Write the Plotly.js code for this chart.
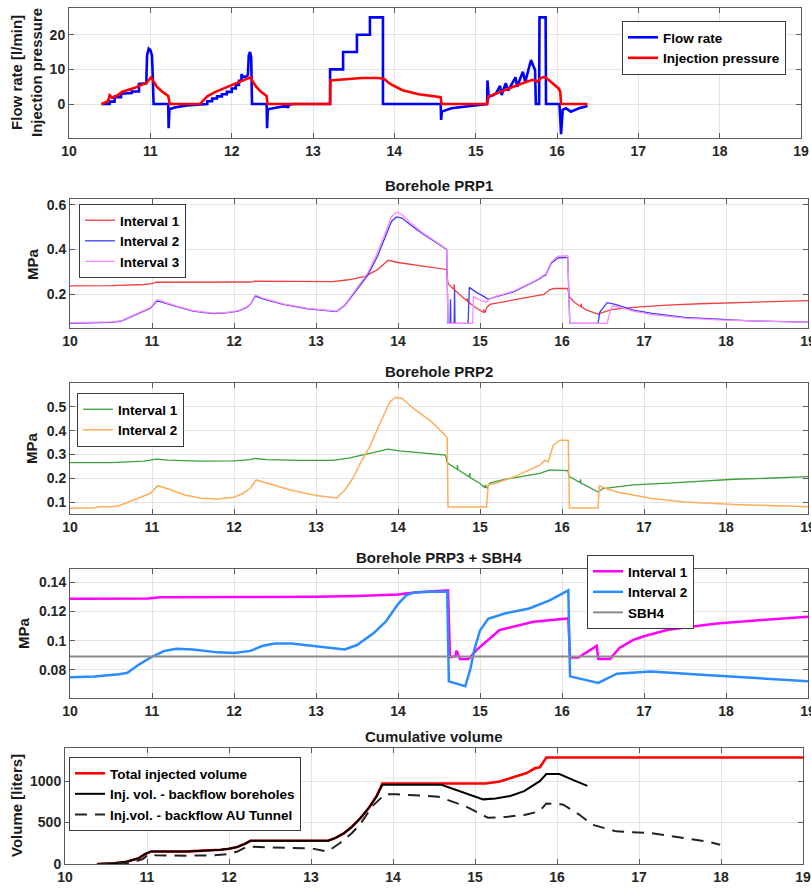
<!DOCTYPE html>
<html><head><meta charset="utf-8">
<script src="https://cdn.plot.ly/plotly-3.0.1.min.js"></script>
<style>html,body{margin:0;padding:0;background:#fff}#chart{width:811px;height:888px}</style>
</head><body><div id="chart"></div>
<script>
// ---------- Panel 1: flow rate & injection pressure ----------
const flowT = [10.40,10.50,10.50,10.56,10.56,10.64,10.64,10.77,10.77,10.86,10.86,10.95,10.96,10.98,11.00,11.02,11.03,11.04,11.22,11.225,11.235,11.30,11.45,11.65,
  11.70,11.70,11.76,11.76,11.82,11.82,11.88,11.88,11.94,11.94,12.00,12.00,12.05,12.05,12.09,12.09,12.12,12.12,12.14,12.19,12.20,12.21,12.225,12.24,12.25,
  12.43,12.435,12.445,12.55,12.65,12.69,12.695,12.70,12.75,13.21,13.21,13.37,13.37,13.54,13.54,13.70,13.70,13.86,13.86,
  14.57,14.575,14.585,14.70,14.90,15.14,15.145,15.16,15.22,15.25,15.30,15.32,15.37,15.40,15.49,15.51,15.58,15.61,15.68,15.73,15.74,15.78,15.785,15.86,15.865,
  16.03,16.05,16.07,16.11,16.17,16.27,16.375];
const flowQ = [0,0,0.7,0.7,2.0,2.0,3.0,3.2,3.6,3.6,5.8,6.0,14.0,16.0,15.6,14.0,8.0,0,0,-7.0,-1.5,-1.0,-0.4,0,
  0,0.8,0.8,1.6,1.6,2.2,2.2,2.8,2.8,3.5,3.5,4.5,4.5,5.5,5.5,6.7,6.7,8.6,7.8,8.0,8.6,14.0,15.0,13.5,0,
  0,-7.0,-1.5,-1.0,-0.6,-0.4,-1.2,-0.3,0,0,10,10,15,15,20,20,25,25,0,
  0,-4.6,-2.2,-1.2,-0.6,0,6.8,2.1,2.6,3.1,5.2,2.6,6.0,3.9,7.7,5.0,9.3,6.4,12.7,9.8,0,0,25,25,0,
  0,-8.7,-1.7,-1.2,-2.2,-1.2,-0.6];
const injT = [10.40,10.48,10.50,10.53,10.56,10.60,10.65,10.72,10.80,10.87,10.95,11.00,11.01,11.04,11.08,11.15,11.22,11.24,11.61,11.65,11.67,11.70,11.80,11.90,12.00,12.10,12.15,12.20,12.23,12.26,12.30,12.36,12.43,12.44,
  13.21,13.215,13.40,13.60,13.80,13.87,13.95,14.10,14.30,14.57,14.58,15.14,15.16,15.30,15.45,15.60,15.70,15.76,15.80,15.84,15.88,15.95,16.02,16.04,16.05,16.375];
const injP = [0,0.8,2.5,1.8,2.2,2.5,3.5,4.0,4.6,5.3,6.0,7.5,7.7,6.5,5.0,3.5,2.3,0,0,1.0,1.5,2.2,3.5,4.5,5.5,6.5,7.0,7.3,7.7,6.5,5.0,3.5,2.3,0,
  0,6.8,7.2,7.5,7.5,7.3,5.8,4.0,2.8,2.0,0,0,2.2,3.5,5.0,6.2,7.0,6.5,7.5,7.8,7.3,5.8,4.5,3.5,0,0];

// ---------- Panel 2: Borehole PRP1 ----------
const prp1T1 = [10.0,10.5,10.9,11.0,11.05,11.5,12.0,12.2,12.25,12.7,13.2,13.4,13.6,13.75,13.88,14.0,14.3,14.59,14.61,14.66,14.68,14.685,14.69,14.78,14.84,14.845,14.85,14.95,15.04,15.045,15.05,15.06,15.08,15.12,15.3,15.5,15.7,15.78,15.85,15.9,16.07,16.09,16.15,16.23,16.235,16.24,16.3,16.44,16.5,16.6,16.87,17.28,17.68,18.09,18.5,19.0];
const prp1V1 = [0.238,0.239,0.244,0.248,0.254,0.254,0.253,0.255,0.259,0.259,0.257,0.265,0.28,0.31,0.352,0.342,0.325,0.311,0.249,0.228,0.222,0.245,0.22,0.19,0.17,0.182,0.168,0.14,0.12,0.132,0.12,0.118,0.14,0.155,0.168,0.18,0.193,0.2,0.22,0.226,0.226,0.19,0.165,0.145,0.158,0.143,0.13,0.112,0.12,0.132,0.142,0.152,0.158,0.163,0.167,0.172];
const prp1T2 = [10.0,10.3,10.5,10.62,10.75,10.9,10.98,11.06,11.1,11.3,11.5,11.75,11.9,12.05,12.15,12.2,12.26,12.35,12.6,12.9,13.1,13.25,13.35,13.45,13.55,13.63,13.75,13.85,13.92,13.98,14.05,14.15,14.3,14.45,14.594,14.61,14.635,14.64,14.645,14.685,14.69,14.695,14.855,14.87,14.95,15.05,15.1,15.2,15.4,15.6,15.73,15.77,15.8,15.87,15.95,16.07,16.095,16.44,16.46,16.55,16.65,16.87,17.1,17.5,17.9,18.3,19.0];
const prp1V2 = [0.071,0.072,0.075,0.08,0.1,0.125,0.138,0.17,0.168,0.145,0.125,0.114,0.117,0.125,0.14,0.155,0.192,0.18,0.155,0.135,0.127,0.123,0.15,0.2,0.25,0.285,0.37,0.46,0.525,0.545,0.54,0.51,0.47,0.435,0.4,0.071,0.071,0.178,0.071,0.071,0.22,0.071,0.071,0.231,0.21,0.19,0.178,0.19,0.21,0.245,0.27,0.282,0.285,0.34,0.362,0.365,0.071,0.071,0.12,0.163,0.155,0.13,0.115,0.097,0.088,0.082,0.076];
const prp1T3 = [10.0,10.3,10.5,10.62,10.75,10.9,10.98,11.06,11.1,11.3,11.5,11.75,11.9,12.05,12.15,12.2,12.26,12.35,12.6,12.9,13.1,13.25,13.35,13.45,13.55,13.63,13.75,13.85,13.92,13.98,14.05,14.15,14.3,14.45,14.594,14.61,14.91,14.92,15.0,15.08,15.12,15.2,15.4,15.6,15.73,15.77,15.8,15.87,15.95,16.07,16.095,16.55,16.6,16.63,16.87,17.1,17.5,17.9,18.3,19.0];
const prp1V3 = [0.073,0.074,0.077,0.082,0.102,0.128,0.141,0.176,0.172,0.148,0.127,0.116,0.119,0.127,0.143,0.158,0.197,0.183,0.157,0.137,0.129,0.125,0.153,0.205,0.258,0.295,0.385,0.48,0.545,0.567,0.555,0.52,0.475,0.438,0.402,0.071,0.071,0.19,0.175,0.165,0.18,0.192,0.213,0.248,0.273,0.285,0.29,0.345,0.37,0.372,0.071,0.071,0.14,0.15,0.125,0.11,0.094,0.086,0.081,0.075];

// ---------- Panel 3: Borehole PRP2 ----------
const prp2T1 = [10.0,10.5,10.9,11.05,11.2,11.6,12.0,12.2,12.25,12.4,12.8,13.2,13.4,13.6,13.75,13.88,14.02,14.3,14.58,14.6,14.7,14.72,14.725,14.73,14.85,14.87,14.875,14.88,15.0,15.06,15.065,15.08,15.12,15.3,15.5,15.73,15.85,16.07,16.09,16.2,16.22,16.225,16.23,16.3,16.44,16.5,16.87,17.3,17.7,18.1,18.5,19.0];
const prp2V1 = [0.266,0.266,0.272,0.28,0.276,0.272,0.273,0.278,0.283,0.278,0.275,0.275,0.285,0.3,0.31,0.322,0.315,0.305,0.297,0.265,0.243,0.238,0.255,0.236,0.21,0.205,0.222,0.203,0.178,0.16,0.172,0.158,0.18,0.195,0.207,0.221,0.235,0.232,0.207,0.187,0.182,0.196,0.18,0.168,0.142,0.157,0.172,0.18,0.189,0.196,0.2,0.207];
const prp2T2 = [10.0,10.3,10.35,10.5,10.6,10.75,10.9,10.98,11.07,11.2,11.4,11.6,11.8,12.0,12.1,12.2,12.27,12.4,12.7,13.0,13.25,13.35,13.45,13.55,13.65,13.78,13.9,13.97,14.05,14.2,14.4,14.55,14.6,14.61,15.08,15.1,15.2,15.4,15.6,15.73,15.79,15.83,15.894,15.976,16.077,16.09,16.44,16.455,16.55,16.7,17.1,17.5,18.1,19.0];
const prp2V2 = [0.074,0.076,0.08,0.08,0.085,0.105,0.125,0.137,0.169,0.155,0.13,0.116,0.113,0.12,0.135,0.158,0.193,0.18,0.15,0.128,0.117,0.15,0.2,0.27,0.33,0.43,0.52,0.54,0.535,0.49,0.44,0.39,0.37,0.079,0.079,0.172,0.18,0.204,0.235,0.255,0.276,0.268,0.339,0.36,0.36,0.075,0.075,0.168,0.155,0.14,0.115,0.1,0.09,0.08];

// ---------- Panel 4: Borehole PRP3 + SBH4 ----------
const prp3T1 = [10.0,10.5,10.95,11.1,12.0,12.5,13.0,13.5,13.8,14.0,14.2,14.4,14.61,14.634,14.70,14.715,14.756,14.858,14.96,15.24,15.65,16.077,16.098,16.2,16.423,16.443,16.585,16.7,16.87,17.0,17.28,17.5,17.89,18.4,19.0];
const prp3V1 = [0.1287,0.1287,0.1288,0.1297,0.1297,0.1300,0.1300,0.1305,0.1310,0.1315,0.1330,0.1335,0.1344,0.0887,0.0893,0.0932,0.0874,0.0874,0.0937,0.1073,0.1129,0.1152,0.0885,0.0885,0.0964,0.0874,0.0874,0.0950,0.1005,0.1030,0.1073,0.1090,0.1118,0.1140,0.1163];
const prp3T2 = [10.0,10.3,10.6,10.7,10.85,11.0,11.15,11.3,11.5,11.8,12.0,12.2,12.35,12.5,12.7,13.0,13.2,13.35,13.5,13.7,13.85,14.0,14.1,14.2,14.4,14.6,14.62,14.82,14.88,14.93,15.0,15.1,15.3,15.6,15.85,16.077,16.098,16.443,16.67,17.08,17.7,18.3,19.0];
const prp3V2 = [0.0750,0.0755,0.0770,0.0780,0.0840,0.0890,0.0930,0.0945,0.0940,0.0920,0.0915,0.0930,0.0965,0.0980,0.0980,0.0960,0.0950,0.0940,0.0970,0.1050,0.1130,0.1250,0.1310,0.1330,0.1335,0.1335,0.0722,0.0688,0.0800,0.0937,0.1070,0.1150,0.1186,0.1220,0.1276,0.1344,0.0756,0.0711,0.0774,0.0790,0.0767,0.0745,0.0722];
const sbh4T = [10.0,19.0];
const sbh4V = [0.0892,0.0892];

// ---------- Panel 5: Cumulative volume ----------
const volT = [10.39,10.6,10.75,10.9,10.98,11.05,11.5,11.7,11.9,12.0,12.1,12.2,12.26,13.21,13.3,13.4,13.5,13.6,13.7,13.8,13.87,14.6,15.13,15.3,15.43,15.55,15.63,15.73,15.79,15.87,19.0];
const volTotal = [0,8,28,70,122,150,152,160,172,183,205,245,280,280,315,370,450,550,670,820,972,972,972,995,1033,1070,1097,1155,1167,1285,1285];
const boreT = [10.39,10.6,10.75,10.9,10.98,11.05,11.5,11.7,11.9,12.0,12.1,12.2,12.26,13.21,13.3,13.4,13.5,13.6,13.7,13.8,13.87,14.59,14.75,14.9,15.1,15.25,15.43,15.6,15.71,15.79,15.87,16.03,16.2,16.37];
const boreV = [0,8,28,70,122,150,152,160,172,183,205,245,280,280,315,370,450,550,670,815,955,955,900,841,780,790,821,880,951,1000,1085,1085,1012,943];
const tunT = [10.39,10.6,10.8,10.95,11.02,11.1,11.5,11.8,12.0,12.1,12.22,12.5,12.8,13.0,13.2,13.35,13.5,13.6,13.75,13.9,14.05,14.55,14.88,15.16,15.4,15.63,15.79,15.87,16.07,16.27,16.43,16.72,17.13,17.54,17.83,17.99];
const tunV = [0,3,10,60,118,106,100,105,120,150,211,200,195,190,150,250,374,480,699,841,841,813,699,557,570,597,638,731,719,597,475,394,374,313,272,232];

// ---------- Labels ----------
const xTicks = [10,11,12,13,14,15,16,17,18,19];
const p1Ticks = [0,10,20];
const p2Ticks = [0.2,0.4,0.6];
const p3Ticks = [0.1,0.2,0.3,0.4,0.5];
const p4Ticks = [0.08,0.1,0.12,0.14];
const p4Text = ['0.08','0.1','0.12','0.14'];
const p5Ticks = [0,500,1000];

const FONT = '"Liberation Sans", Arial, Helvetica, sans-serif';
const W = 811, H = 888;
const xd = (a,b) => [a/W, b/W];
const yd = (top,bottom) => [1-bottom/H, 1-top/H];

function tr(x,y,name,color,width,xa,ya,lg,extra){
  return Object.assign({x:x,y:y,name:name,type:'scatter',mode:'lines',line:{color:color,width:width},xaxis:xa,yaxis:ya,legend:lg},extra||{});
}
const data = [
  tr(flowT,flowQ,'Flow rate','#0000ff',2.6,'x','y','legend'),
  tr(injT,injP,'Injection pressure','#ff0000',2.6,'x','y','legend'),
  tr(prp1T1,prp1V1,'Interval 1','#f04040',1.3,'x2','y2','legend2'),
  tr(prp1T2,prp1V2,'Interval 2','#3c3cff',1.3,'x2','y2','legend2'),
  tr(prp1T3,prp1V3,'Interval 3','#ff88ff',1.3,'x2','y2','legend2'),
  tr(prp2T1,prp2V1,'Interval 1','#3ca03c',1.3,'x3','y3','legend3'),
  tr(prp2T2,prp2V2,'Interval 2','#ffad5c',1.5,'x3','y3','legend3'),
  tr(prp3T1,prp3V1,'Interval 1','#ff00ff',2.5,'x4','y4','legend4'),
  tr(prp3T2,prp3V2,'Interval 2','#2a8cff',2.5,'x4','y4','legend4'),
  tr(sbh4T,sbh4V,'SBH4','#8c8c8c',2,'x4','y4','legend4'),
  tr(volT,volTotal,'Total injected volume','#ff0000',2.6,'x5','y5','legend5'),
  tr(boreT,boreV,'Inj. vol. - backflow boreholes','#000000',2,'x5','y5','legend5'),
  tr(tunT,tunV,'Inj.vol. - backflow AU Tunnel','#222222',2,'x5','y5','legend5',{line:{color:'#222222',width:2,dash:'12px,8px'}})
];

const tickFont = {family:FONT,size:14,color:'#262626',weight:'bold'};
function ax(extra){
  return Object.assign({showline:true,linecolor:'#5a5a5a',linewidth:1,mirror:'ticks',ticks:'inside',ticklen:5,tickcolor:'#5a5a5a',
    showgrid:true,gridcolor:'#e4e4e4',gridwidth:1,zeroline:false,tickfont:tickFont,fixedrange:true,ticklabeloverflow:'allow'},extra);
}
function xax(dom,anchor){return ax({domain:dom,anchor:anchor,range:[10,19],tickvals:xTicks});}

function lg(x,y){
  return {x:x/W,y:1-y/H,xanchor:'left',yanchor:'top',bgcolor:'#ffffff',bordercolor:'#3a3a3a',borderwidth:1,
    font:{family:FONT,size:13.5,color:'#000',weight:'bold'},tracegroupgap:0};
}
function ann(text,x,y,size,angle){
  return {text:text,x:x/W,y:1-y/H,xref:'paper',yref:'paper',showarrow:false,textangle:angle||0,
    xanchor:'center',yanchor:'middle',font:{family:FONT,size:size,color:'#1a1a1a',weight:'bold'}};
}

const layout = {
  width:W,height:H,margin:{l:0,r:0,t:0,b:0},paper_bgcolor:'#ffffff',plot_bgcolor:'#ffffff',
  font:{family:FONT},
  xaxis: xax(xd(69,801),'y'),
  yaxis: ax({domain:yd(8,138),anchor:'x',range:[-9.8,27.7],tickvals:p1Ticks}),
  xaxis2: xax(xd(70,808),'y2'),
  yaxis2: ax({domain:yd(199,328),anchor:'x2',range:[0.05,0.625],tickvals:p2Ticks,ticktext:['0.2','0.4','0.6']}),
  xaxis3: xax(xd(70,808),'y3'),
  yaxis3: ax({domain:yd(383,514),anchor:'x3',range:[0.05,0.6],tickvals:p3Ticks,ticktext:['0.1','0.2','0.3','0.4','0.5']}),
  xaxis4: xax(xd(70,808),'y4'),
  yaxis4: ax({domain:yd(569,698),anchor:'x4',range:[0.0608,0.149],tickvals:p4Ticks,ticktext:p4Text}),
  xaxis5: xax(xd(65,803),'y5'),
  yaxis5: ax({domain:yd(748,864),anchor:'x5',range:[0,1400],tickvals:p5Ticks}),
  legend: lg(622,21),
  legend2: lg(79,204),
  legend3: lg(77,393),
  legend4: lg(587,555),
  legend5: lg(69,757),
  annotations: [
    ann('Flow rate [l/min]<br>Injection pressure',26,73,15,-90),
    ann('MPa',32,264,15,-90),
    ann('MPa',32,448,15,-90),
    ann('MPa',23,633,15,-90),
    ann('Volume [liters]',16,806,15,-90),
    ann('Borehole PRP1',439,186,15,0),
    ann('Borehole PRP2',439,372,15,0),
    ann('Borehole PRP3 + SBH4',439,557,15,0),
    ann('Cumulative volume',434,736,15,0)
  ]
};
Plotly.newPlot('chart',data,layout,{displayModeBar:false,staticPlot:true});
</script></body></html>
